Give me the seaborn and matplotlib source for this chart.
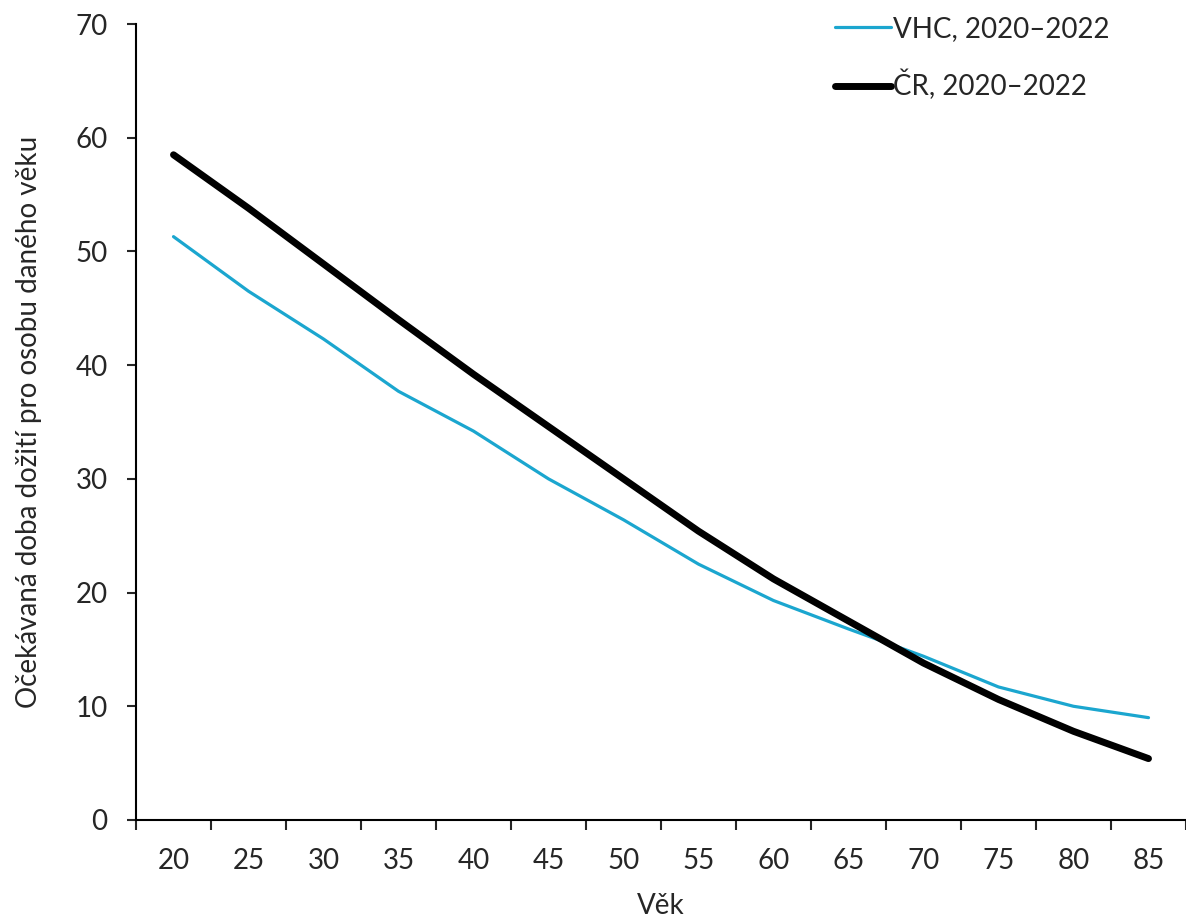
import matplotlib
matplotlib.use("Agg")
import matplotlib.pyplot as plt
from matplotlib.ticker import FixedLocator, MultipleLocator
import seaborn as sns
import pandas as pd

ages = ["20", "25", "30", "35", "40", "45", "50", "55", "60", "65", "70", "75", "80", "85"]
vhc = [51.3, 46.5, 42.3, 37.7, 34.2, 30.0, 26.4, 22.5, 19.3, 16.8, 14.4, 11.7, 10.0, 9.0]
cr = [58.5, 53.8, 48.9, 44.0, 39.2, 34.6, 30.0, 25.4, 21.2, 17.5, 13.8, 10.6, 7.8, 5.4]

series_names = ["VHC, 2020\u20132022", "\u010cR, 2020\u20132022"]
series_colors = ["#1BA6CF", "#000000"]
series_widths = [2.3, 5.0]


def set_style():
	sns.set_style("white")
	plt.rcParams.update({
		"font.family": ["Lato", "DejaVu Sans"],
		"font.size": 20,
		"axes.linewidth": 1.5,
		"axes.edgecolor": "black",
	})


if __name__ == "__main__":
	set_style()

	fig = plt.figure(figsize=(11.86, 9.19), dpi=100)
	ax = fig.add_axes([136 / 1186, 99 / 919, 1050 / 1186, 796 / 919])

	for name, vals, col, lw in zip(series_names, [vhc, cr], series_colors, series_widths):
		df = pd.DataFrame({"age": ages, "value": vals})
		sns.lineplot(data=df, x="age", y="value", ax=ax, color=col, linewidth=lw,
					 label=name, sort=False, solid_capstyle="round")

	ax.set_xlim(-0.5, len(ages) - 0.5)
	ax.set_ylim(0, 70)
	ax.yaxis.set_major_locator(MultipleLocator(10))

	# Excel style: tick marks between categories, labels at centres
	ax.xaxis.set_minor_locator(FixedLocator([i - 0.5 for i in range(len(ages) + 1)]))
	ax.tick_params(axis="x", which="major", length=0, pad=20, labelsize=20)
	ax.tick_params(axis="x", which="minor", length=7, width=1.5, direction="out", bottom=True)
	ax.tick_params(axis="y", which="major", length=6.5, width=1.5, direction="out", left=True,
				   pad=14, labelsize=20)

	ax.spines["right"].set_visible(False)
	ax.spines["top"].set_visible(False)

	ax.set_xlabel("V\u011bk", fontsize=20, labelpad=14)
	ax.set_ylabel("O\u010dek\u00e1van\u00e1 doba do\u017eit\u00ed pro osobu dan\u00e9ho v\u011bku",
				  fontsize=20, labelpad=24)

	leg = ax.legend(loc="upper left", bbox_to_anchor=(824 / 1186, 1 - 5 / 919),
					bbox_transform=fig.transFigure, frameon=False, fontsize=20,
					handlelength=2.0, handletextpad=0.1, labelspacing=1.0, borderaxespad=0)

	fig.savefig("out.png", dpi=100)
